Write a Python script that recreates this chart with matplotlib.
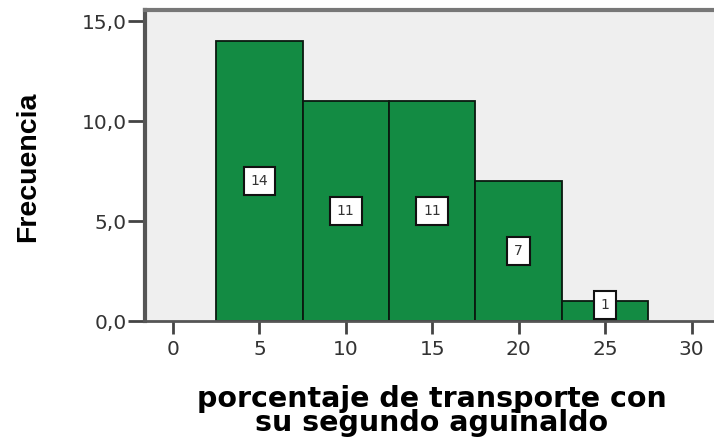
import matplotlib
matplotlib.use("Agg")
import matplotlib.pyplot as plt
from matplotlib import font_manager

bin_edges = [2.5, 7.5, 12.5, 17.5, 22.5, 27.5]
counts = [14, 11, 11, 7, 1]
xticks = [0, 5, 10, 15, 20, 25, 30]
yticks = [0, 5, 10, 15]
ytick_labels = ["0,0", "5,0", "10,0", "15,0"]

names = {f.name for f in font_manager.fontManager.ttflist}
narrow = "Liberation Sans Narrow" if "Liberation Sans Narrow" in names else "Liberation Sans"

fig = plt.figure(figsize=(7.14, 4.41), dpi=100)
ax = fig.add_axes([0.203, 0.272, 0.797, 0.705])
ax.set_facecolor("#efefef")

lefts = bin_edges[:-1]
widths = [b - a for a, b in zip(bin_edges[:-1], bin_edges[1:])]
ax.bar(lefts, counts, width=widths, align="edge", color="#138b43",
       edgecolor="#0a1a10", linewidth=1.3, zorder=2)

for l, w, c in zip(lefts, widths, counts):
    ypos = max(c / 2, 0.8)
    ax.text(l + w / 2, ypos, str(c), ha="center", va="center", fontsize=10,
            color="#333333", family="DejaVu Sans", zorder=3,
            bbox=dict(boxstyle="square,pad=0.5", facecolor="white",
                      edgecolor="#111111", linewidth=1.5))

ax.set_xlim(-1.62, 31.3)
ax.set_ylim(0, 15.55)
ax.set_xticks(xticks)
ax.set_xticklabels([str(t) for t in xticks], fontsize=14.5, color="#333333",
                   family="DejaVu Sans")
ax.set_yticks(yticks)
ax.set_yticklabels(ytick_labels, fontsize=14.5, color="#333333",
                   family="DejaVu Sans")
ax.tick_params(axis="x", length=9, width=2, color="#444444", direction="out", pad=5)
ax.tick_params(axis="y", length=12, width=2, color="#444444", direction="out", pad=1)

ax.spines["left"].set_linewidth(3)
ax.spines["left"].set_color("#555555")
ax.spines["bottom"].set_linewidth(2)
ax.spines["bottom"].set_color("#555555")
ax.spines["top"].set_linewidth(3)
ax.spines["top"].set_color("#777777")
ax.spines["right"].set_visible(False)

fig.text(28 / 714, 1 - 167 / 441, "Frecuencia", rotation=90, ha="center",
         va="center", fontsize=20.5, fontweight="bold", family=narrow)
fig.text(432 / 714, 1 - 411 / 441, "porcentaje de transporte con\nsu segundo aguinaldo",
         ha="center", va="center", fontsize=20.5, fontweight="bold",
         family="DejaVu Sans", linespacing=0.86)

fig.savefig("out.png", dpi=100)
